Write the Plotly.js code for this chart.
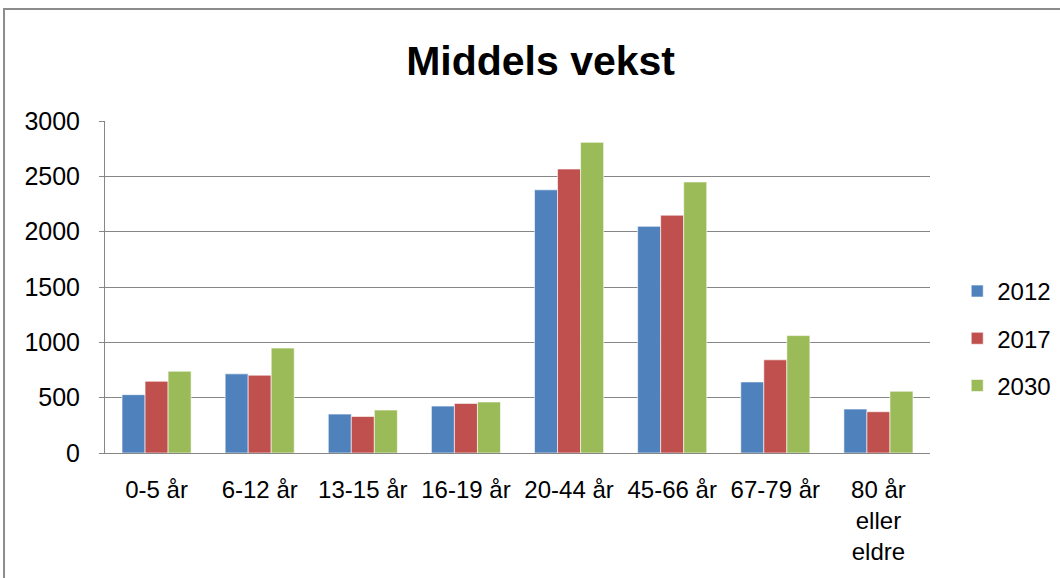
<!DOCTYPE html>
<html>
<head>
<meta charset="utf-8">
<script src="https://cdn.plot.ly/plotly-3.0.1.min.js"></script>
<style>
  body { margin: 0; background: #fff; }
  #plot { width: 1060px; height: 578px; }
</style>
</head>
<body>
<div id="plot"></div>
<script>
// Aldersgrupper og verdier lest av figuren
let categories = ['0-5 år', '6-12 år', '13-15 år', '16-19 år', '20-44 år', '45-66 år', '67-79 år', '80 år<br>eller<br>eldre'];
let years = ['2012', '2017', '2030'];
let values2012 = [527, 715, 352, 424, 2378, 2048, 642, 397];
let values2017 = [648, 703, 330, 448, 2566, 2149, 842, 373];
let values2030 = [739, 948, 388, 461, 2807, 2449, 1061, 558];
let yTicks = [0, 500, 1000, 1500, 2000, 2500, 3000];

let colors = ['#4F81BD', '#C0504D', '#9BBB59'];
let series = [values2012, values2017, values2030];

let traces = series.map(function(vals, i) {
    return {
        x: categories,
        y: vals,
        name: years[i],
        legendgroup: years[i],
        type: 'bar',
        marker: {color: colors[i], line: {color: 'rgba(255,255,255,0.6)', width: 1}},
        hoverinfo: 'x+y+name'
    };
});

let gray = '#868686';

let layout = {
    width: 1060,
    height: 578,
    margin: {l: 105, r: 130, t: 121, b: 125, autoexpand: false},
    paper_bgcolor: '#fff',
    plot_bgcolor: '#fff',
    font: {family: 'Liberation Sans', size: 24, color: '#000'},
    title: {
        text: '<b>Middels vekst</b>',
        font: {family: 'Liberation Sans', size: 41, color: '#000'},
        x: 0.51, xref: 'container', xanchor: 'center',
        y: 0.895, yanchor: 'middle'
    },
    barmode: 'group',
    bargap: 0.33,
    bargroupgap: 0,
    xaxis: {
        showline: true, linecolor: gray, linewidth: 1,
        showgrid: false,
        ticks: '', tickfont: {size: 24},
        ticklabelstandoff: 15,
        fixedrange: true
    },
    yaxis: {
        range: [0, 3000],
        tickvals: yTicks,
        showline: true, linecolor: gray, linewidth: 1,
        showgrid: true, gridcolor: gray, gridwidth: 1,
        ticks: 'outside', ticklen: 5, tickcolor: gray,
        ticklabelstandoff: 14,
        tickfont: {size: 25},
        zeroline: false,
        fixedrange: true
    },
    legend: {
        x: 1.033, xanchor: 'left',
        y: 0.345, yanchor: 'middle',
        font: {size: 24},
        traceorder: 'grouped',
        tracegroupgap: 13,
        itemwidth: 30
    },
    shapes: [{
        type: 'rect', xref: 'paper', yref: 'paper',
        x0: -0.1224, x1: 1.3, y0: -0.6, y1: 1.337,
        line: {color: '#8c8c8c', width: 2}
    }]
};

Plotly.newPlot('plot', traces, layout, {displayModeBar: false});
</script>
</body>
</html>
